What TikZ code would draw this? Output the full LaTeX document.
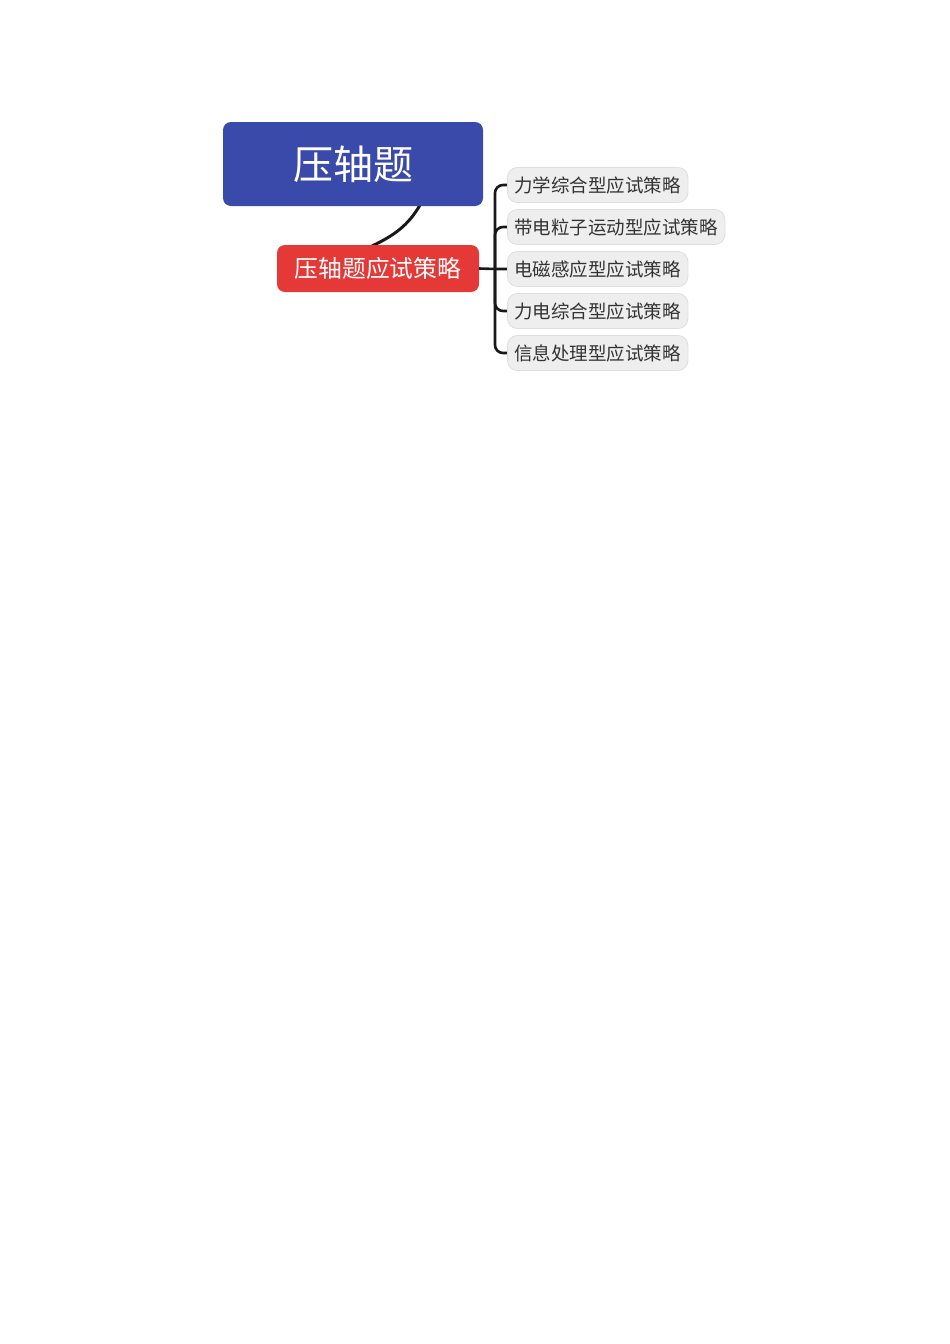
\documentclass[tikz,border=0pt]{standalone}
\usepackage{fontspec}
\newfontfamily\cjk{Noto Sans CJK SC}
\usetikzlibrary{backgrounds}
\definecolor{bluebox}{RGB}{58,74,171}
\definecolor{redbox}{RGB}{228,57,54}
\definecolor{graybox}{RGB}{238,238,238}
\definecolor{grayline}{RGB}{222,222,222}
\definecolor{txtgray}{RGB}{51,51,51}
\tikzset{
  rootbox/.style={fill=bluebox,draw=none,rounded corners=8pt,text=white,font=\cjk\fontsize{40}{42}\selectfont,minimum width=260pt,minimum height=84pt,inner sep=0pt},
  mainbox/.style={fill=redbox,draw=none,rounded corners=8pt,text=white,font=\cjk\fontsize{23.8}{25}\selectfont,minimum width=202pt,minimum height=47pt,inner sep=0pt},
  leafbox/.style={fill=graybox,draw=grayline,line width=0.8pt,rounded corners=10pt,text=txtgray,font=\cjk\fontsize{18.5}{20}\selectfont,minimum height=35pt,inner xsep=7pt,inner ysep=0pt,anchor=west},
  link/.style={draw=black!90,line width=3pt},
  branch/.style={draw=black!90,line width=2.6pt,rounded corners=8pt}
}
\begin{document}
\begin{tikzpicture}[x=1pt,y=-1pt]
\useasboundingbox (0,0) rectangle (950,1344);
\node[rootbox] (root) at (353,164) {\raisebox{-1.5pt}{压轴题}};
\node[mainbox] (main) at (378,268.5) {压轴题应试策略};
\node[leafbox] (c1) at (507,185) {力学综合型应试策略};
\node[leafbox] (c2) at (507,227) {带电粒子运动型应试策略};
\node[leafbox] (c3) at (507,269) {电磁感应型应试策略};
\node[leafbox] (c4) at (507,311) {力电综合型应试策略};
\node[leafbox] (c5) at (507,353) {信息处理型应试策略};
\coordinate (hub) at (495,269);
\coordinate (rs) at (420,205);
\coordinate (mt) at (372,246);
\begin{scope}[on background layer]
\draw[link] (rs) .. controls (408,226) and (393,236) .. (mt);
\draw[branch] (main.east) -- (hub) -- (c3.west);
\draw[branch] (hub) -- (hub |- c1.west) -- (c1.west);
\draw[branch] (hub) -- (hub |- c2.west) -- (c2.west);
\draw[branch] (hub) -- (hub |- c4.west) -- (c4.west);
\draw[branch] (hub) -- (hub |- c5.west) -- (c5.west);
\end{scope}
\end{tikzpicture}
\end{document}
